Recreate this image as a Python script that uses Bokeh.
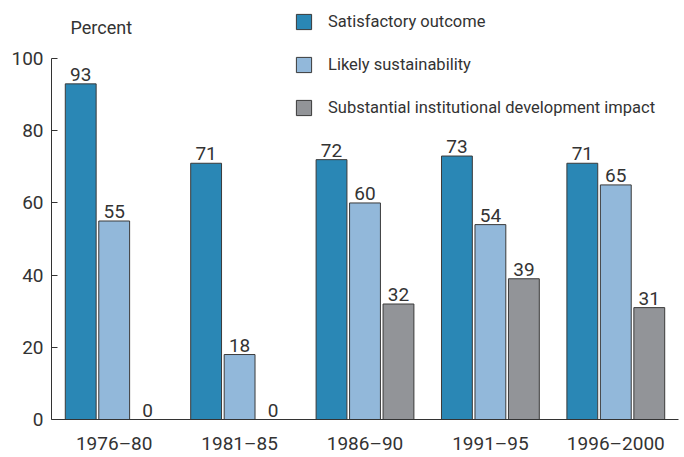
from bokeh.plotting import figure
from bokeh.models import ColumnDataSource, Legend, LegendItem, Label, FactorRange
from bokeh.transform import dodge
from bokeh.core.properties import value
from bokeh.embed import file_html
from bokeh.resources import INLINE

periods = ["1976\u201380", "1981\u201385", "1986\u201390", "1991\u201395", "1996\u20132000"]
satisfactory = [93, 71, 72, 73, 71]
sustainability = [55, 18, 60, 54, 65]
institutional = [0, 0, 32, 39, 31]
series_names = ["Satisfactory outcome", "Likely sustainability",
                "Substantial institutional development impact"]
y_ticks = [0, 20, 40, 60, 80, 100]

FONT = "Roboto"
TXT = "#333333"
colors = ["#2a87b5", "#92b8da", "#929498"]

src = ColumnDataSource(dict(
    period=periods, s=satisfactory, l=sustainability, i=institutional,
    s_t=[str(v) for v in satisfactory], l_t=[str(v) for v in sustainability],
    i_t=[str(v) for v in institutional]))

p = figure(x_range=FactorRange(*periods), y_range=(0, 116.1), width=684, height=457,
           output_backend="svg", toolbar_location=None,
           min_border_left=51, min_border_right=6, min_border_top=0, min_border_bottom=35)
p.outline_line_color = None
p.xgrid.grid_line_color = None
p.ygrid.grid_line_color = None
p.x_range.range_padding = 0

offs = [-0.267, 0.0, 0.267]
renderers = []
for col, off, c in zip(["s", "l", "i"], offs, colors):
    r = p.vbar(x=dodge("period", off, range=p.x_range), top=col, width=0.246, source=src,
               fill_color=c, line_color="#3a3a3a", line_width=1)
    renderers.append(r)
    p.text(x=dodge("period", off, range=p.x_range), y=col, text=col + "_t", source=src,
           text_align="center", text_baseline="bottom", y_offset=-3,
           text_font=value(FONT), text_font_size="19px", text_color=TXT)

legend = Legend(items=[LegendItem(label=n, renderers=[r]) for n, r in zip(series_names, renderers)],
                location=(243, 302), orientation="vertical",
                glyph_width=19, glyph_height=19, label_height=19, label_standoff=15,
                spacing=24, padding=0, margin=0,
                border_line_alpha=0, background_fill_alpha=0,
                label_text_font=FONT, label_text_font_size="16.5px", label_text_color=TXT)
p.add_layout(legend, "center")

p.add_layout(Label(x=19, y=392, x_units="screen", y_units="screen", text="Percent",
                   text_baseline="middle", text_font=FONT, text_font_size="18px",
                   text_color=TXT))

p.yaxis.ticker = y_ticks
p.yaxis.bounds = (0, 100)
p.yaxis.major_tick_in = 6
p.yaxis.major_tick_out = 0
p.yaxis.minor_tick_line_color = None
p.yaxis.major_label_standoff = 8
p.xaxis.major_tick_out = 0
p.xaxis.major_label_standoff = 12
for ax in (p.xaxis[0], p.yaxis[0]):
    ax.axis_line_color = "#333333"
    ax.major_label_text_font = FONT
    ax.major_label_text_font_size = "19px"
    ax.major_label_text_color = TXT
p.yaxis.major_tick_line_color = "#333333"
p.xaxis.major_tick_line_color = None

open("out.html", "w").write(file_html(p, INLINE))
